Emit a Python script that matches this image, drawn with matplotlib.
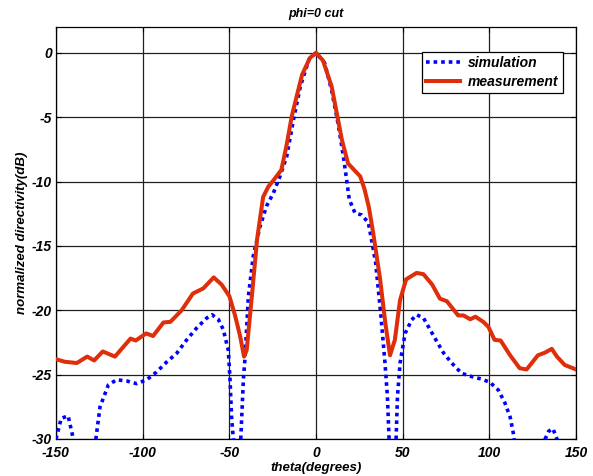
import matplotlib

matplotlib.use("Agg")
from matplotlib import pyplot as plt

# measured pattern, phi=0 cut
theta_meas = [-150, -145, -138, -132, -128, -123, -116, -107, -104, -98, -94,
              -88, -84, -77.5, -71, -65, -59, -54.5, -50, -46.7, -43.8, -41.5,
              -40, -37, -34, -30.5, -27.5, -24.5, -20, -17, -14, -11, -8, -3.5,
              0, 4, 9, 10.5, 15, 18.5, 22, 25.5, 28, 30.5, 33, 37, 40, 42.7,
              45.5, 48.5, 52, 58, 62, 67, 71.5, 75.5, 82, 85, 89, 92, 96.5,
              99.5, 103, 106.5, 112, 117.5, 121.5, 128, 132, 136, 139, 143.5,
              150]
meas_db = [-23.8, -24.0, -24.1, -23.6, -23.9, -23.2, -23.6, -22.2, -22.35,
           -21.8, -22.0, -20.95, -20.9, -20.0, -18.7, -18.3, -17.45, -18.0,
           -18.9, -20.4, -22.0, -23.6, -23.1, -18.9, -14.5, -11.2, -10.4, -9.9,
           -9.1, -7.2, -4.95, -3.3, -1.7, -0.4, 0, -0.6, -2.6, -3.65, -6.8,
           -8.6, -9.1, -9.6, -10.6, -12.0, -14.0, -17.6, -21.0, -23.5, -22.3,
           -19.2, -17.6, -17.1, -17.2, -18.0, -19.1, -19.3, -20.4, -20.4,
           -20.7, -20.5, -20.9, -21.3, -22.3, -22.35, -23.5, -24.5, -24.6,
           -23.5, -23.3, -23.0, -23.6, -24.25, -24.6]

# simulated pattern (values below -30 dB fall off the plot)
theta_sim = [-150, -147, -143, -140, -137, -130, -127, -124.6, -119.8, -115,
             -109, -103.5, -97.7, -92, -86, -80.4, -74.6, -69, -63, -60, -56.4,
             -53.5, -50.6, -49.6, -48.7, -47.7, -46, -44, -43.4, -41.9, -40.9,
             -39, -36.2, -32.3, -28.5, -24.6, -20.8, -16.9, -13, -9, -4, 0, 5,
             9, 13, 15.8, 17.7, 19.2, 22.5, 26.4, 30.2, 32, 34.4, 37.3, 39.8,
             41.2, 42.1, 43, 45, 46.2, 47, 48.5, 51.4, 55.2, 58, 62, 65.8, 69.6,
             73.5, 78.3, 84, 89.8, 95.6, 100.4, 105.2, 109, 112, 114.2, 116,
             130, 132.2, 134.2, 136.7, 139, 141, 150]
sim_db = [-30, -28.4, -28.2, -30, -33, -33, -30, -27.5, -25.8, -25.4, -25.5,
          -25.7, -25.4, -24.8, -24.0, -23.35, -22.3, -21.4, -20.6, -20.35,
          -20.7, -21.5, -23.1, -25.4, -28.3, -30, -33, -33, -30, -25.4, -23.6,
          -18.9, -15.8, -13.5, -11.9, -10.9, -9.6, -8.06, -5.2, -2.6, -0.5, 0,
          -0.8, -2.9, -5.7, -8.06, -9.9, -11.4, -12.45, -12.6, -13.2, -14.5,
          -16.3, -20.2, -24.1, -26.7, -29.8, -33, -33, -30, -26.7, -24.1,
          -21.8, -20.75, -20.35, -20.6, -21.5, -22.4, -23.3, -24.1, -24.9,
          -25.15, -25.35, -25.6, -26.2, -27.2, -28.3, -29.8, -33, -33, -30,
          -29.4, -29.2, -30, -33, -33]

x_ticks = [-150, -100, -50, 0, 50, 100, 150]
y_ticks = [0, -5, -10, -15, -20, -25, -30]

plt.rcParams["font.family"] = "Liberation Sans"
plt.rcParams["font.weight"] = "bold"
plt.rcParams["font.style"] = "italic"
plt.rcParams["axes.titleweight"] = "bold"
plt.rcParams["axes.labelweight"] = "bold"
plt.rcParams["axes.unicode_minus"] = False

fig = plt.figure(figsize=(5.93, 4.76), dpi=100)
ax = fig.add_axes([56 / 593, 37 / 476, 520 / 593, 412 / 476])

ax.plot(theta_sim, sim_db, color="#0000FF", lw=2.6, linestyle=(0, (1, 1.1)),
        label="simulation", zorder=3)
ax.plot(theta_meas, meas_db, color="#DF2F0A", lw=2.9, solid_joinstyle="round",
        label="measurement", zorder=4)

ax.set_xlim(-150, 150)
ax.set_ylim(-30, 2)
ax.set_xticks(x_ticks)
ax.set_yticks(y_ticks)
ax.grid(True, color="#202020", lw=0.9, linestyle="-")
ax.set_axisbelow(True)
ax.tick_params(direction="in", length=3.5, width=0.8, top=True, right=True,
               labelsize=10)
ax.tick_params(axis="x", pad=5)
ax.tick_params(axis="y", pad=3)
for label in ax.get_yticklabels():
    label.set_verticalalignment("center_baseline")
for spine in ax.spines.values():
    spine.set_linewidth(0.9)

ax.set_title("phi=0 cut", fontsize=9, pad=7)
ax.set_xlabel("theta(degrees)", fontsize=9.5, labelpad=1.5)
ax.set_ylabel("normalized directivity(dB)", fontsize=9.5, labelpad=3)

leg = ax.legend(loc="upper right", bbox_to_anchor=(0.9744, 0.940),
                fontsize=10, handlelength=2.4, fancybox=False,
                borderaxespad=0, borderpad=0.3, labelspacing=0.35,
                handletextpad=0.6)
leg.get_frame().set_edgecolor("black")
leg.get_frame().set_linewidth(0.9)
leg.get_frame().set_alpha(1)

fig.savefig("out.png", dpi=100)
